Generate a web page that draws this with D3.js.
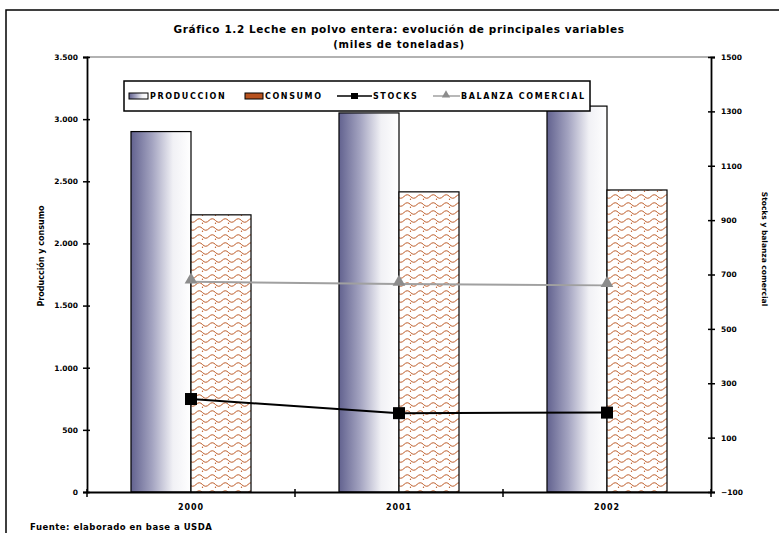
<!DOCTYPE html>
<html>
<head>
<meta charset="utf-8">
<script src="https://cdn.jsdelivr.net/npm/d3@7"></script>
<style>
  body { margin: 0; background: #fff; }
  text { font-family: "DejaVu Sans", Verdana, sans-serif; font-weight: bold; fill: #000; }
</style>
</head>
<body>
<svg id="chart"></svg>
<script>
// data (miles de toneladas)
const years = ["2000", "2001", "2002"];
const produccion = [2900, 3050, 3105];
const consumo = [2230, 2415, 2430];
const stocks = [242, 190, 192];
const balanza = [673, 665, 660];
const leftTicks = [0, 500, 1000, 1500, 2000, 2500, 3000, 3500];
const rightTicks = [-100, 100, 300, 500, 700, 900, 1100, 1300, 1500];
const legendLabels = ["PRODUCCION", "CONSUMO", "STOCKS", "BALANZA COMERCIAL"];

const width = 779, height = 533;
const margin = {top: 57, right: 68, bottom: 41, left: 87};

const svg = d3.select("#chart").attr("width", width).attr("height", height);

// frame of the chart object
svg.append("rect")
    .attr("x", 6).attr("y", 10)
    .attr("width", width + 10).attr("height", height + 10)
    .attr("fill", "none").attr("stroke", "#000").attr("stroke-width", 1.5);

const defs = svg.append("defs");
const grad = defs.append("linearGradient").attr("id", "gradProd")
    .attr("x1", "0%").attr("x2", "100%").attr("y1", "0%").attr("y2", "0%");
grad.append("stop").attr("offset", "0%").attr("stop-color", "#62628f");
grad.append("stop").attr("offset", "35%").attr("stop-color", "#a3a3c0");
grad.append("stop").attr("offset", "70%").attr("stop-color", "#f1f1f5");
grad.append("stop").attr("offset", "100%").attr("stop-color", "#ffffff");

// wavy pattern for consumo
const pat = defs.append("pattern").attr("id", "waves")
    .attr("patternUnits", "userSpaceOnUse").attr("width", 13).attr("height", 8);
pat.append("rect").attr("width", 13).attr("height", 8).attr("fill", "#fff");
pat.append("path")
    .attr("d", "M0,4.5 Q3.25,1 6.5,4.5 T13,4.5")
    .attr("fill", "none").attr("stroke", "#bd5a26").attr("stroke-width", 1);
pat.append("circle").attr("cx", 6.5).attr("cy", 7.3).attr("r", 0.7).attr("fill", "#bd5a26");

// scales
const x0 = d3.scaleBand().domain(years)
    .range([margin.left, width - margin.right])
    .paddingInner(0.423).paddingOuter(0.2115);
const x1 = d3.scaleBand().domain(["prod", "cons"]).range([0, x0.bandwidth()]);
const yL = d3.scaleLinear().domain([0, 3500]).range([height - margin.bottom, margin.top]);
const yR = d3.scaleLinear().domain([-100, 1500]).range([height - margin.bottom, margin.top]);

const locale = d3.formatLocale({decimal: ",", thousands: ".", grouping: [3], currency: ["", ""]});
const fmtL = locale.format(",d");

// plot area top border
svg.append("line")
    .attr("x1", margin.left).attr("x2", width - margin.right)
    .attr("y1", margin.top).attr("y2", margin.top)
    .attr("stroke", "#999").attr("stroke-width", 1.5);

// bars
const groups = svg.selectAll(".yr").data(years).enter().append("g")
    .attr("transform", d => `translate(${x0(d)},0)`);

groups.append("rect")
    .attr("x", x1("prod")).attr("width", x1.bandwidth())
    .attr("y", (d, i) => yL(produccion[i]))
    .attr("height", (d, i) => yL(0) - yL(produccion[i]))
    .attr("fill", "url(#gradProd)").attr("stroke", "#000").attr("stroke-width", 1.2);

groups.append("rect")
    .attr("x", x1("cons")).attr("width", x1.bandwidth())
    .attr("y", (d, i) => yL(consumo[i]))
    .attr("height", (d, i) => yL(0) - yL(consumo[i]))
    .attr("fill", "url(#waves)").attr("stroke", "#000").attr("stroke-width", 1.2);

// lines on the right axis
const cx = d => x0(d) + x0.bandwidth() / 2;

const lineB = d3.line().x((v, i) => cx(years[i])).y(v => yR(v));
svg.append("path").datum(balanza)
    .attr("d", lineB).attr("fill", "none")
    .attr("stroke", "#a0a0a0").attr("stroke-width", 2);
const tri = d3.symbol().type(d3.symbolTriangle).size(70);
svg.selectAll(".tri").data(balanza).enter().append("path")
    .attr("d", tri)
    .attr("transform", (v, i) => `translate(${cx(years[i])},${yR(v) - 2})`)
    .attr("fill", "#8c8c8c");

svg.append("path").datum(stocks)
    .attr("d", lineB).attr("fill", "none")
    .attr("stroke", "#000").attr("stroke-width", 2);
svg.selectAll(".sq").data(stocks).enter().append("rect")
    .attr("x", (v, i) => cx(years[i]) - 6).attr("y", v => yR(v) - 6)
    .attr("width", 12).attr("height", 12).attr("fill", "#000");

// axes
const axL = svg.append("g").attr("transform", `translate(${margin.left},0)`)
    .call(d3.axisLeft(yL).tickValues(leftTicks).tickFormat(fmtL).tickSize(4).tickPadding(5));
axL.selectAll(".tick line").attr("x1", 3);
const axR = svg.append("g").attr("transform", `translate(${width - margin.right},0)`)
    .call(d3.axisRight(yR).tickValues(rightTicks).tickFormat(d3.format("d")).tickSize(4).tickPadding(6));
axR.selectAll(".tick line").attr("x1", -3);

const axX = svg.append("g").attr("transform", `translate(0,${height - margin.bottom})`)
    .call(d3.axisBottom(x0).tickSize(0).tickPadding(12));
// tick marks between categories
const bounds = years.map(d => x0(d) - x0.step() * x0.paddingInner() / 2).concat([width - margin.right]);
axX.selectAll(".sep").data(bounds).enter().append("line")
    .attr("x1", d => d).attr("x2", d => d).attr("y1", -3).attr("y2", 5)
    .attr("stroke", "#000").attr("stroke-width", 1.5);

[axL, axR, axX].forEach(a => {
  a.select(".domain").attr("stroke", "#000").attr("stroke-width", 1.8);
  a.selectAll(".tick line").attr("stroke", "#000").attr("stroke-width", 1.5);
  a.selectAll("text").style("font-size", "7.5px").style("font-family", "DejaVu Sans").style("font-weight", "bold");
});
axX.selectAll("text").style("font-size", "8px").style("letter-spacing", "1px");

// titles
svg.append("text").attr("x", 399).attr("y", 33).attr("text-anchor", "middle")
    .style("font-size", "10.5px").style("letter-spacing", "0.6px")
    .text("Gráfico 1.2 Leche en polvo entera: evolución de principales variables");
svg.append("text").attr("x", 399).attr("y", 48).attr("text-anchor", "middle")
    .style("font-size", "10px").style("letter-spacing", "0.8px")
    .text("(miles de toneladas)");

svg.append("text").attr("transform", "translate(44,256) rotate(-90)")
    .attr("text-anchor", "middle").style("font-size", "8px")
    .text("Producción y consumo");
svg.append("text").attr("transform", "translate(762,249) rotate(90)")
    .attr("text-anchor", "middle").style("font-size", "7.5px")
    .text("Stocks y balanza comercial");

svg.append("text").attr("x", 30).attr("y", 530)
    .style("font-size", "8.5px").style("letter-spacing", "0.5px")
    .text("Fuente: elaborado en base a USDA");

// legend
const lg = svg.append("g");
lg.append("rect").attr("x", 124).attr("y", 81).attr("width", 466).attr("height", 30)
    .attr("fill", "#fff").attr("stroke", "#000").attr("stroke-width", 1.5);
const legX = [129, 245, 337, 433];
const textX = [150, 265, 373, 461];
lg.append("rect").attr("x", legX[0]).attr("y", 93).attr("width", 19).attr("height", 6)
    .attr("fill", "url(#gradProd)").attr("stroke", "#000");
lg.append("rect").attr("x", legX[1]).attr("y", 93).attr("width", 18).attr("height", 6)
    .attr("fill", "#b8521f").attr("stroke", "#000");
lg.append("line").attr("x1", legX[2]).attr("x2", 372).attr("y1", 96).attr("y2", 96)
    .attr("stroke", "#000").attr("stroke-width", 1.5);
lg.append("rect").attr("x", 351).attr("y", 93).attr("width", 7).attr("height", 6).attr("fill", "#000");
lg.append("line").attr("x1", legX[3]).attr("x2", 460).attr("y1", 96).attr("y2", 96)
    .attr("stroke", "#a0a0a0").attr("stroke-width", 1.5);
lg.append("path").attr("d", d3.symbol().type(d3.symbolTriangle).size(30))
    .attr("transform", "translate(446,95)").attr("fill", "#8c8c8c");
lg.selectAll(".lt").data(legendLabels).enter().append("text")
    .attr("x", (d, i) => textX[i]).attr("y", 99)
    .style("font-size", "8px").style("letter-spacing", "1.6px")
    .text(d => d);
</script>
</body>
</html>
